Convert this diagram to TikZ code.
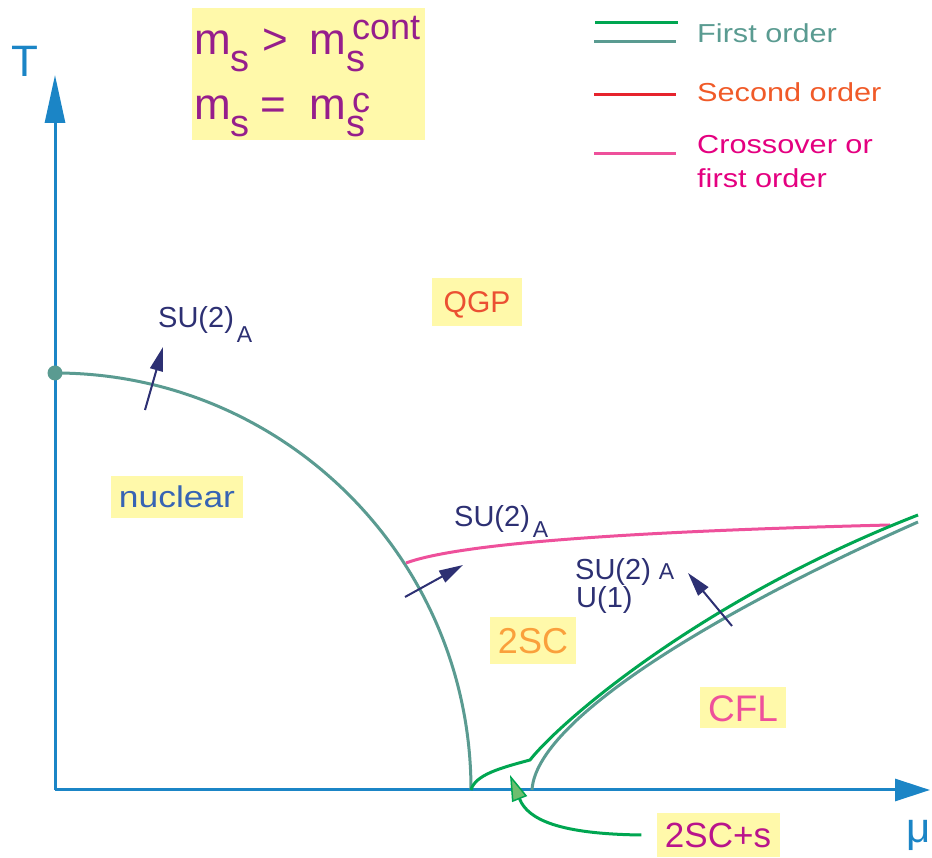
\documentclass[tikz,border=0pt]{standalone}
\usepackage{fontspec}
\setmainfont{Liberation Sans}
\newfontfamily\widefont[FakeStretch=1.18]{Liberation Sans}
\usetikzlibrary{arrows.meta}
\definecolor{assi}{RGB}{27,133,198}
\definecolor{verdeacqua}{RGB}{90,155,145}
\definecolor{verde}{RGB}{0,166,81}
\definecolor{verdechiaro}{RGB}{110,190,110}
\definecolor{rosa}{RGB}{238,80,155}
\definecolor{rosso}{RGB}{230,35,45}
\definecolor{arancio}{RGB}{240,90,40}
\definecolor{fucsia}{RGB}{228,0,128}
\definecolor{viola}{RGB}{150,30,140}
\definecolor{blunotte}{RGB}{45,48,115}
\definecolor{giallino}{RGB}{255,249,170}
\definecolor{rossoqgp}{RGB}{235,80,50}
\definecolor{blunucl}{RGB}{55,100,180}
\definecolor{aranciosc}{RGB}{250,160,60}
\definecolor{violasc}{RGB}{185,20,140}
\newcommand{\fsz}[1]{\fontsize{#1}{#1}\selectfont}
\newcommand{\pedice}[1]{\raisebox{-17pt}{\fsz{38}#1}}
\newcommand{\apice}[2]{\raisebox{#1}{\fsz{36}#2}}
\newcommand{\pedA}[2]{\hspace{#1}\raisebox{-#2}{\fsz{23}A}}
\tikzset{
  linea/.style={line width=3pt},
  fase/.style={fill=giallino, inner xsep=8pt, inner ysep=0pt, minimum height=44pt,
    font=\fsz{#1}, text height={0.72*#1}, text depth=0pt},
  gruppo/.style={text=blunotte, anchor=base west, inner sep=0pt, font=\fsz{29}},
  freccia/.style={blunotte, line width=2pt, -{Triangle[length=24pt,width=13pt]}},
  legenda/.style={anchor=base west, inner sep=0pt, font=\widefont\fsz{26}},
  msnodo/.style={text=viola, anchor=base west, inner sep=0pt, font=\fsz{44}}
}
\begin{document}
\begin{tikzpicture}[x=1pt,y=1pt]
  \useasboundingbox (-55,-68) rectangle (877,790);
  %assi
  \coordinate (origine) at (0,0);
  \draw[assi, linea, -{Triangle[length=48pt,width=20pt]}] (origine) -- (0,715);
  \draw[assi, linea, -{Triangle[length=35pt,width=22pt]}] (origine) -- (875,0);
  \node[text=assi, font=\fsz{44}] (asseT) at (-30,729) {T};
  \node[text=assi, font=\fsz{42}] (assemu) at (864,-45) {μ};
  %riquadro masse
  \node[fill=giallino, minimum width=233pt, minimum height=132pt] (msbox) at (253.5,716) {};
  \node[msnodo] (mscont) at (139,735) {m\pedice{s}\hspace{13pt}>\hspace{21pt}m\rlap{\pedice{s}}\hspace{6pt}\apice{15pt}{cont}};
  \node[msnodo] (msc) at (139,670) {m\pedice{s}\hspace{11pt}=\hspace{23pt}m\rlap{\pedice{s}}\hspace{6pt}\apice{7pt}{c}};
  %legenda
  \draw[linea, verde] (540,767) -- (623,767);
  \draw[linea, verdeacqua] (539,748) -- (621,748);
  \draw[linea, rosso] (539,695) -- (621,695);
  \draw[linea, rosa] (539,636) -- (621,636);
  \node[legenda, text=verdeacqua] (primo) at (642,747) {First order};
  \node[legenda, text=arancio] (secondo) at (642,688) {Second order};
  \node[legenda, text=fucsia] (crossover) at (642,636) {Crossover or};
  \node[legenda, text=fucsia] (crossover2) at (642,602) {first order};
  %linee di transizione
  \node[circle, fill=verdeacqua, inner sep=0pt, minimum size=15pt] (puntoT) at (0,417) {};
  \draw[linea, verdeacqua] (puntoT.center) arc[start angle=90, end angle=0, x radius=416, y radius=417];
  \draw[linea, rosa] (351,227) .. controls (400,245) and (550,258) .. (835,265);
  \draw[linea, verdeacqua] (477,0) .. controls (481,70) and (660,178) .. (863,268);
  \draw[linea, verde, line join=miter] (416,0) .. controls (420,15) and (445,22) .. (475,30)
    .. controls (505,68) and (645,190) .. (863,275);
  %fasi
  \node[fase=30, text=rossoqgp, minimum width=90pt, minimum height=48pt] (qgp) at (422,488) {QGP};
  \node[fase=30, text=blunucl, font=\widefont\fsz{30}, minimum width=130pt, minimum height=42pt] (nucleare) at (122,293) {nuclear};
  \node[fase=36, text=aranciosc, minimum width=80pt, minimum height=47pt] (dueSC) at (478,149) {2SC};
  \node[fase=37, text=rosa, minimum width=80pt, minimum height=41pt] (cfl) at (688,82) {CFL};
  \node[fase=35, text=violasc, minimum width=123pt, minimum height=44pt] (dueSCs) at (663,-45) {2SC+s};
  %simmetrie
  \node[gruppo] (su2a) at (103,462) {SU(2)\pedA{3pt}{15pt}};
  \node[gruppo] (su2b) at (399,263) {SU(2)\pedA{3pt}{11pt}};
  \node[gruppo] (su2c) at (520,210) {SU(2)\pedA{8pt}{0pt}};
  \node[gruppo] (u1) at (521,182) {U(1)};
  \coordinate (a1coda) at (90,380);
  \coordinate (a1punta) at (108,443);
  \coordinate (a2coda) at (350,193);
  \coordinate (a2punta) at (408,225);
  \coordinate (a3coda) at (677,164);
  \coordinate (a3punta) at (633,217);
  \draw[freccia] (a1coda) -- (a1punta);
  \draw[freccia] (a2coda) -- (a2punta);
  \draw[freccia] (a3coda) -- (a3punta);
  %freccia 2SC+s
  \coordinate (puntas) at (455,15);
  \draw[verde, linea, -{Triangle[length=26pt,width=16pt,fill=verdechiaro,line width=1.5pt]}]
    ([xshift=-15pt]dueSCs.west) .. controls (505,-44) and (473,-30) .. (puntas);
\end{tikzpicture}
\end{document}
